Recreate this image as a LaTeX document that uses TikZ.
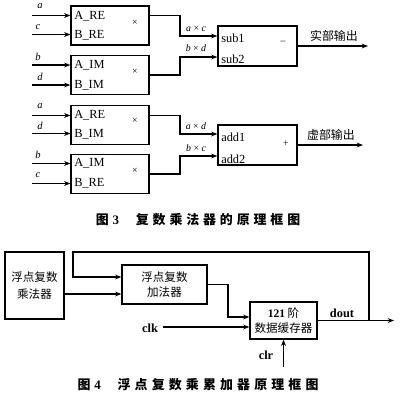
\documentclass[tikz,border=0pt]{standalone}
\usepackage{fontspec}
\setmainfont{Liberation Serif}
\newfontfamily\cjk{Noto Sans CJK SC}
\usetikzlibrary{arrows.meta}
\begin{document}
\begin{tikzpicture}[x=0.025cm,y=-0.025cm,
 ln/.style={line width=0.75pt},
 arr/.style={ln,-{Stealth[length=4.5pt,width=3.4pt]}},
 box/.style={draw,line width=0.85pt,inner sep=0pt},
 mbox/.style={box,minimum width=1.95cm,minimum height=0.975cm},
 obox/.style={box,minimum width=1.975cm,minimum height=1cm},
 port/.style={font=\fontsize{8.8}{10}\selectfont,inner sep=0pt,anchor=west},
 sym/.style={font=\fontsize{7}{8}\selectfont,inner sep=0pt},
 var/.style={font=\fontsize{7.5}{8}\selectfont\itshape,inner sep=0pt},
 prod/.style={font=\fontsize{7}{8}\selectfont,inner sep=0pt},
 cjklab/.style={font=\fontsize{8.5}{10}\selectfont\cjk,inner sep=0pt},
 blab/.style={font=\fontsize{8.8}{10}\selectfont\bfseries,inner sep=0pt},
 figcap/.style={font=\fontsize{9.2}{11}\selectfont\bfseries,inner sep=0pt}
]
\useasboundingbox (0,0) rectangle (400,404);

% ---------- multiplier boxes ----------
\node[mbox] (M1) at (110,25.5) {};
\node[mbox] (M2) at (110,75) {};
\node[mbox] (M3) at (110,125) {};
\node[mbox] (M4) at (110,174) {};

\node[port] (t1a) at (74,16) {A\_RE};
\node[port] (t1b) at (74,35) {B\_RE};
\node[port] (t2a) at (74,65.5) {A\_IM};
\node[port] (t2b) at (74,85) {B\_IM};
\node[port] (t3a) at (74,115.5) {A\_RE};
\node[port] (t3b) at (74,134) {B\_IM};
\node[port] (t4a) at (74,163.5) {A\_IM};
\node[port] (t4b) at (74,183.5) {B\_RE};
\node[sym] (x1) at (135,23) {×};
\node[sym] (x2) at (135,72) {×};
\node[sym] (x3) at (135,121) {×};
\node[sym] (x4) at (135,171) {×};

% inputs
\coordinate (i1a) at (32,15.5);
\coordinate (i1b) at (32,34.5);
\coordinate (i2a) at (32,65);
\coordinate (i2b) at (32,85);
\coordinate (i3a) at (32,115.5);
\coordinate (i3b) at (32,133.5);
\coordinate (i4a) at (32,163.5);
\coordinate (i4b) at (32,183.5);
\foreach \c in {i1a,i1b,i2a,i2b,i3a,i3b,i4a,i4b}
  \draw[arr] (\c) -- (\c -| M1.west);
\node[var] (v1a) at (40,6) {a};
\node[var] (v1b) at (38,27) {c};
\node[var] (v2a) at (38,57) {b};
\node[var] (v2b) at (40,77) {d};
\node[var] (v3a) at (40,106) {a};
\node[var] (v3b) at (40,126) {d};
\node[var] (v4a) at (38,155) {b};
\node[var] (v4b) at (38,175) {c};

% ---------- sub / add boxes ----------
\node[obox] (Sub) at (257.5,46) {};
\node[obox] (Add) at (257.5,145) {};
\node[port] (s1) at (221,38) {sub1};
\node[port] (s2) at (221,59) {sub2};
\node[sym] (sm) at (283,41) {\_};
\node[port] (a1) at (221,137) {add1};
\node[port] (a2) at (221,159) {add2};
\node[sym] (ap) at (286,144) {+};

\coordinate (k1) at (180,36);
\coordinate (k2) at (180,57);
\coordinate (k3) at (180,134);
\coordinate (k4) at (180,156);
\draw[arr] (M1.east |- i1a) -| (k1) -- (k1 -| Sub.west);
\draw[arr] (M2.east) -| (k2) -- (k2 -| Sub.west);
\draw[arr] (M3.east |- i3a) -| (k3) -- (k3 -| Add.west);
\draw[arr] (M4.east) -| (k4) -- (k4 -| Add.west);

\node[prod] (p1) at (196,29) {\textit{a} × \textit{c}};
\node[prod] (p2) at (196,48) {\textit{b} × \textit{d}};
\node[prod] (p3) at (196,126) {\textit{a} × \textit{d}};
\node[prod] (p4) at (196,148) {\textit{b} × \textit{c}};

\coordinate (o1) at (368,46);
\coordinate (o2) at (363,145);
\draw[arr] (Sub.east) -- (o1);
\draw[arr] (Add.east) -- (o2);
\node[cjklab] (re) at (334,36) {实部输出};
\node[cjklab] (im) at (331,135) {虚部输出};

\node[figcap] (cap3) at (198,220) {{\cjk 图}\hspace{0.3em}3\hspace{1.3em}{\cjk\addfontfeature{LetterSpace=30}复数乘法器的原理框图}};

% ---------- figure 4 ----------
\node[box,minimum width=1.475cm,minimum height=1.675cm,align=center,
  font=\fontsize{8.2}{12.5}\selectfont\cjk] (Mul) at (34.5,285.5) {浮点复数\\乘法器};
\node[box,minimum width=2.125cm,minimum height=0.975cm,align=center,
  font=\fontsize{8.2}{11}\selectfont\cjk] (AddF) at (164.5,284.5) {浮点复数\\加法器};
\node[box,minimum width=1.675cm,minimum height=0.925cm,align=center,
  font=\fontsize{8.2}{11}\selectfont\cjk] (Buf) at (283.5,320.5) {{\bfseries\rmfamily 121} 阶\\数据缓存器};

\coordinate (in1) at ([yshift=0.1875cm]AddF.west);
\coordinate (in2) at ([yshift=-0.2375cm]AddF.west);
\coordinate (fbj) at (369,320.5);
\coordinate (fbl) at (73,252);
\coordinate (bj) at (228,317);
\coordinate (clk) at (163,327);
\coordinate (clr) at (283.5,367);
\coordinate (dout) at (394,320.5);

\draw[arr] (fbj) |- (fbl) |- (in1);
\draw[arr] (Mul.east |- in2) -- (in2);
\draw[arr] (AddF.east) -| (bj) -- (bj -| Buf.west);
\draw[arr] (clk) -- (clk -| Buf.west);
\draw[arr] (Buf.east) -- (dout);
\draw[arr] (clr) -- (Buf.south);

\node[blab] (clkl) at (150,328) {clk};
\node[blab] (clrl) at (266,355) {clr};
\node[blab] (doutl) at (342,313) {dout};

\node[figcap] (cap4) at (198,385) {{\cjk 图}\hspace{0.3em}4\hspace{1.3em}{\cjk\addfontfeature{LetterSpace=32}浮点复数乘累加器原理框图}};
\end{tikzpicture}
\end{document}
